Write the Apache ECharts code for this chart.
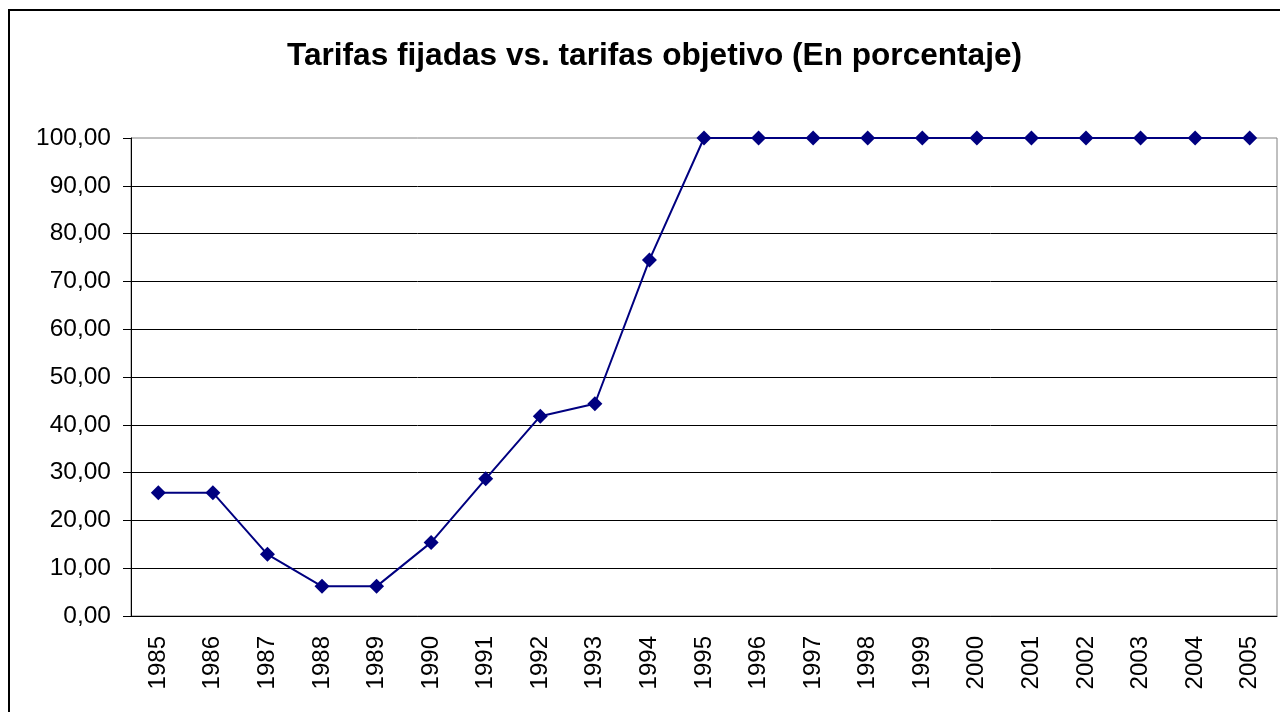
<!DOCTYPE html>
<html>
<head>
<meta charset="utf-8">
<script src="https://cdn.jsdelivr.net/npm/echarts@6/dist/echarts.min.js"></script>
<style>
  html, body { margin: 0; padding: 0; background: #fff; }
  #chart { width: 1280px; height: 712px; }
</style>
</head>
<body>
<div id="chart"></div>
<script>
const years = ['1985', '1986', '1987', '1988', '1989', '1990', '1991', '1992', '1993', '1994', '1995',
  '1996', '1997', '1998', '1999', '2000', '2001', '2002', '2003', '2004', '2005']
const tarifas = [25.8, 25.8, 12.9, 6.2, 6.2, 15.4, 28.7, 41.8, 44.4, 74.5, 100,
  100, 100, 100, 100, 100, 100, 100, 100, 100, 100]
const titleText = 'Tarifas fijadas vs. tarifas objetivo (En porcentaje)'

const chart = echarts.init(document.getElementById('chart'))
chart.setOption({
  animation: false,
  textStyle: { fontFamily: 'Liberation Sans, Arial, sans-serif' },
  title: {
    text: titleText,
    left: 282,
    top: 35,
    textStyle: { fontSize: 31.6, fontWeight: 'bold', color: '#000' }
  },
  graphic: [{
    type: 'rect',
    shape: { x: 9, y: 10, width: 1400, height: 800 },
    style: { fill: 'none', stroke: '#000', lineWidth: 2 },
    silent: true
  }],
  grid: {
    left: 131,
    right: 3,
    top: 138,
    bottom: 96,
    show: true,
    borderColor: '#808080',
    borderWidth: 1
  },
  xAxis: {
    type: 'category',
    data: years,
    axisLine: { lineStyle: { color: '#000', width: 1 } },
    axisTick: { length: 7, lineStyle: { color: '#000' } },
    axisLabel: { rotate: 90, fontSize: 24, color: '#000', margin: 20 }
  },
  yAxis: {
    type: 'value',
    min: 0,
    max: 100,
    interval: 10,
    axisLine: { show: true, lineStyle: { color: '#000', width: 1 } },
    axisTick: { show: true, length: 8, lineStyle: { color: '#000' } },
    axisLabel: {
      fontSize: 24.5,
      color: '#000',
      margin: 20,
      formatter: v => v.toFixed(2).replace('.', ',')
    },
    splitLine: { show: true, showMaxLine: false, lineStyle: { color: '#000', width: 1 } }
  },
  series: [{
    type: 'line',
    data: tarifas,
    symbol: 'diamond',
    symbolSize: 15,
    itemStyle: { color: '#000080' },
    lineStyle: { color: '#000080', width: 2 }
  }]
})
</script>
</body>
</html>
